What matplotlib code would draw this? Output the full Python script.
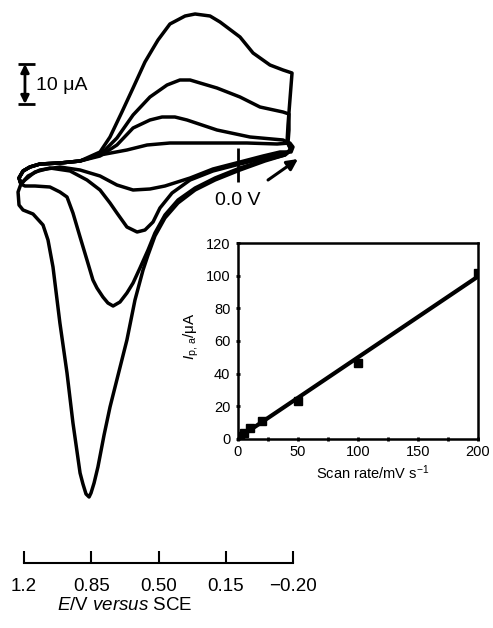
import matplotlib
matplotlib.use("Agg")
import matplotlib.pyplot as plt

plt.rcParams['font.family'] = ['Liberation Sans', 'DejaVu Sans']
plt.rcParams['mathtext.fontset'] = 'custom'
plt.rcParams['mathtext.rm'] = 'Liberation Sans'
plt.rcParams['mathtext.it'] = 'Liberation Sans:italic'

# cyclic voltammograms, E in V vs SCE, current in uA
# 20 mV/s
cv20_E = [1.216, 1.226, 1.205, 1.169, 1.117, 1.013, 0.908, 0.804, 0.664, 0.559, 0.440, 0.335,
          0.216, 0.039, -0.118, -0.185, -0.201,
          -0.191, -0.133, -0.045, 0.075, 0.216, 0.335, 0.466, 0.544, 0.632, 0.716, 0.804,
          0.908, 1.013, 1.117, 1.179, 1.216]
cv20_I = [-2.25, -0.75, 1.0, 2.0, 2.75, 3.0, 3.5, 5.0, 6.25, 7.5, 8.0, 8.0,
          8.0, 8.0, 7.75, 8.0, 7.0,
          5.75, 5.75, 4.75, 3.25, 1.5, -0.75, -2.75, -3.5, -3.75, -2.5, -0.25,
          1.25, 2.0, 1.25, -0.25, -2.25]

# 50 mV/s
cv50_E = [1.216, 1.226, 1.205, 1.169, 1.117, 1.013, 0.908, 0.804, 0.716, 0.632, 0.544, 0.481,
          0.414, 0.351, 0.195, 0.023, -0.149, -0.180, -0.191,
          -0.175, -0.055, 0.075, 0.216, 0.335, 0.429, 0.492, 0.528, 0.570, 0.611, 0.664,
          0.716, 0.752, 0.804, 0.872, 0.960, 1.065, 1.143, 1.195, 1.216]
cv50_I = [-2.25, -0.75, 1.0, 2.0, 2.75, 3.0, 3.5, 4.75, 7.5, 11.75, 13.75, 14.5,
          14.5, 13.75, 11.25, 9.5, 8.75, 8.0, 6.75,
          5.75, 4.25, 2.75, 1.0, -1.25, -4.5, -8.25, -11.75, -13.75, -14.25, -13.0,
          -9.5, -7.0, -3.75, -1.25, 1.0, 1.75, 0.75, -1.25, -2.25]

# 100 mV/s
cv100_E = [1.216, 1.226, 1.205, 1.169, 1.117, 1.013, 0.908, 0.830, 0.778, 0.716, 0.632, 0.544,
           0.455, 0.388, 0.335, 0.283, 0.195, 0.075, -0.029, -0.149, -0.180,
           -0.180, -0.175, -0.191,
           -0.159, -0.055, 0.075, 0.205, 0.309, 0.398, 0.466, 0.518, 0.554, 0.596, 0.632,
           0.664, 0.700, 0.736, 0.763, 0.789, 0.820, 0.841, 0.872, 0.908, 0.945, 0.976,
           1.013, 1.065, 1.143, 1.195, 1.216]
cv100_I = [-2.25, -0.75, 1.0, 2.0, 2.75, 3.0, 3.5, 4.75, 6.25, 9.25, 15.0, 19.5,
           22.5, 23.75, 23.75, 23.0, 21.75, 19.5, 17.0, 15.75, 15.25,
           11.25, 8.0, 6.25,
           5.0, 3.75, 1.75, -0.75, -3.25, -6.25, -10.0, -14.5, -18.75, -23.25, -27.0,
           -29.5, -31.75, -32.75, -32.0, -30.5, -28.25, -26.25, -21.25, -15.5, -9.5, -5.5,
           -4.25, -3.0, -2.75, -2.75, -2.25]

# 200 mV/s
cv200_E = [1.216, 1.226, 1.205, 1.169, 1.117, 1.013, 0.908, 0.804, 0.752, 0.690, 0.632, 0.570,
           0.530, 0.502, 0.440, 0.361, 0.309, 0.231, 0.179, 0.075, 0.007, -0.081, -0.149, -0.196,
           -0.185, -0.175, -0.170, -0.191,
           -0.159, -0.055, 0.075, 0.205, 0.309, 0.398, 0.466, 0.518, 0.554, 0.580, 0.622,
           0.664, 0.710, 0.752, 0.783, 0.815, 0.835, 0.851, 0.861, 0.877, 0.893, 0.908,
           0.945, 0.976, 1.013, 1.049, 1.075, 1.101, 1.153, 1.205, 1.226, 1.231, 1.216]
cv200_I = [-2.25, -0.75, 1.0, 2.0, 2.75, 3.0, 3.5, 5.75, 9.5, 15.75, 21.75, 28.25,
           31.5, 33.75, 37.75, 39.75, 40.25, 39.75, 38.25, 34.5, 30.5, 27.5, 26.25, 25.5,
           18.75, 12.5, 8.25, 6.25,
           5.0, 3.5, 1.25, -1.25, -3.75, -7.0, -10.75, -15.25, -20.0, -23.75, -31.25,
           -41.25, -50.0, -58.0, -65.0, -73.0, -77.0, -79.5, -80.5, -79.75, -77.25, -74.5,
           -62.0, -49.5, -37.0, -23.0, -16.25, -12.5, -9.75, -8.75, -7.5, -4.25, -2.25]

# inset: peak current vs scan rate
scan_rate = [1, 2, 5, 10, 20, 50, 100, 200]
ip_a = [1.0, 2.0, 3.5, 7.0, 11.0, 23.5, 46.5, 101.5]
fit_rate = [0, 200]
fit_ip = [0.5, 99.5]

scale_ticks = [1.2, 0.85, 0.50, 0.15, -0.20]
scale_labels = ['1.2', '0.85', '0.50', '0.15', '\u22120.20']

W, H = 493, 628
fig = plt.figure(figsize=(W / 100, H / 100), dpi=100)

# main CV panel, axis hidden; limits chosen so the E axis lines up with the scale below
ax = fig.add_axes([0, 0, 1, 1])
ax.set_xlim(1.2 + 24 / 192, 1.2 - (W - 24) / 192)
ax.set_ylim((175 - H) / 4, 175 / 4)
ax.axis('off')

for E, I in [(cv20_E, cv20_I), (cv50_E, cv50_I), (cv100_E, cv100_I), (cv200_E, cv200_I)]:
    ax.plot(E, I, color='black', lw=2.5, solid_joinstyle='round', solid_capstyle='round')

# 10 uA scale bar
ax.annotate('', xy=(1.195, 27.75), xytext=(1.195, 17.75),
            arrowprops=dict(arrowstyle='<|-|>', lw=2, color='black',
                            shrinkA=0, shrinkB=0, mutation_scale=12))
ax.hlines([27.75, 17.75], 1.231, 1.145, color='black', lw=2)
ax.text(1.1375, 22.5, '10 \u03bcA', ha='left', va='center', fontsize=14)

# 0.0 V marker and scan direction arrow
ax.vlines(0.085, -1.75, 6.75, color='black', lw=2)
ax.text(0.085, -6.3, '0.0 V', ha='center', va='center', fontsize=14)
ax.annotate('', xy=(-0.227, 4.0), xytext=(-0.071, -1.25),
            arrowprops=dict(arrowstyle='-|>', lw=2.2, color='black',
                            shrinkA=0, shrinkB=0, mutation_scale=16))

# potential scale at the bottom
sax = fig.add_axes([24 / W, (H - 563) / H, 269 / W, 0.03])
sax.set_xlim(1.2, -0.2)
sax.patch.set_alpha(0)
for s in ['top', 'left', 'right']:
    sax.spines[s].set_visible(False)
sax.spines['bottom'].set_linewidth(1.5)
sax.set_yticks([])
sax.set_xticks(scale_ticks)
sax.set_xticklabels(scale_labels, fontsize=13.5)
sax.tick_params(axis='x', direction='in', length=8.6, width=1.5, pad=11)
fig.text(125 / W, 1 - 605 / H, r'$\it{E}$/V $\it{versus}$ SCE', ha='center', va='center',
         fontsize=13.5)

# inset
iax = fig.add_axes([238 / W, 1 - 439 / H, 240 / W, 196 / H])
iax.plot(fit_rate, fit_ip, color='black', lw=3)
iax.plot(scan_rate, ip_a, 's', color='black', ms=6)
iax.set_xlim(0, 200)
iax.set_ylim(0, 120)
iax.set_xticks([0, 50, 100, 150, 200])
iax.set_xticks([25, 75, 125, 175], minor=True)
iax.set_yticks(range(0, 121, 20))
for s in iax.spines.values():
    s.set_linewidth(1.8)
iax.tick_params(axis='both', which='both', direction='inout', length=3, width=2, labelsize=10.5)
iax.tick_params(axis='y', pad=4)
iax.tick_params(axis='x', pad=2.5)
iax.set_xlabel('Scan rate/mV s$^{-1}$', fontsize=10.5, va='center')
iax.xaxis.set_label_coords(0.5625, -0.173)
iax.set_ylabel('$I_{\\mathrm{p,\\,a}}$/\u03bcA', fontsize=11, va='center')
iax.yaxis.set_label_coords(-0.196, 0.525)

fig.savefig('out.png', dpi=100)
